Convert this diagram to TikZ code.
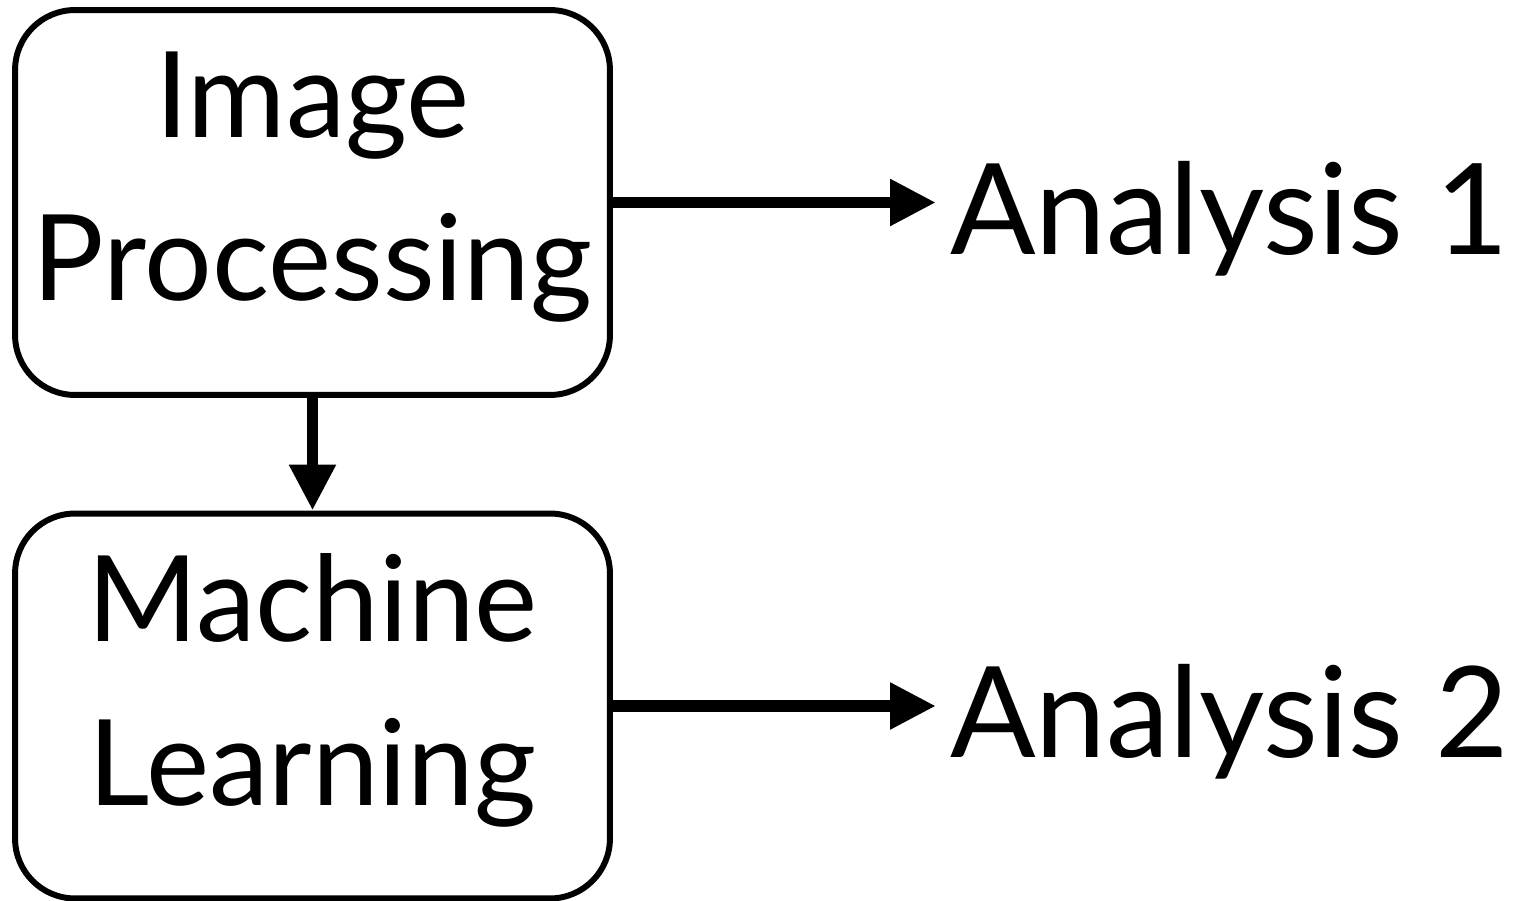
\documentclass[tikz,border=0pt]{standalone}
\usepackage{fontspec}
\setmainfont{Lato}
\usetikzlibrary{arrows.meta,positioning}

\begin{document}
\begin{tikzpicture}[x=0.02cm, y=-0.02cm,
  box/.style={draw, line width=3.4pt, rounded corners=1.2cm, minimum width=11.9cm, minimum height=7.7cm, align=center, text depth=30pt, font=\fontsize{68}{93}\selectfont},
  lbl/.style={inner sep=8pt, font=\fontsize{72}{93}\selectfont},
  arr/.style={-{Triangle[length=0.92cm, width=0.88cm]}, line width=6.8pt}
]
\useasboundingbox (0,0) rectangle (1529,901);
\node[box] (ip) at (312.5,202.5) {Image\\Processing};
\node[box] (ml) at (312.5,706) {Machine\\Learning};
\node[lbl, anchor=base west] (a1) at (936,255) {Analysis 1};
\node[lbl, anchor=base west] (a2) at (936,758) {Analysis 2};

\draw[arr] (ip.east) -- (ip.east -| a1.west);
\draw[arr] (ml.east) -- (ml.east -| a2.west);
\draw[arr] (ip.south) -- (ml.north);
\end{tikzpicture}
\end{document}
